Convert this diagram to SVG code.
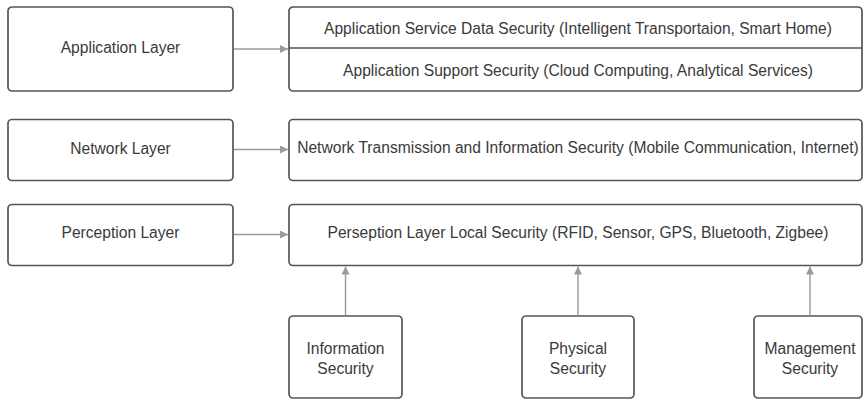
<svg xmlns="http://www.w3.org/2000/svg" width="865" height="402" viewBox="0 0 865 402">
  <style>
    .box { fill: #ffffff; stroke: #555555; stroke-width: 1.7; }
    .lbl { font-family: "Liberation Sans", Arial, sans-serif; font-size: 15.6px; fill: #3a3a3a; text-anchor: middle; dominant-baseline: central; }
    .conn { stroke: #9a9a9a; stroke-width: 1.4; fill: none; marker-end: url(#arrow); }
  </style>
  <defs>
    <marker id="arrow" viewBox="0 0 10 10" refX="10" refY="5" markerWidth="10" markerHeight="8" markerUnits="userSpaceOnUse" orient="auto">
      <path d="M0,0 L10,5 L0,10 Z" fill="#9a9a9a"/>
    </marker>
  </defs>
  <rect width="865" height="402" fill="#ffffff"/>

  <!-- layers -->
  <g id="application-layer">
    <rect class="box" x="8" y="7" width="225" height="84" rx="4"/>
    <text class="lbl" x="120.5" y="47">Application Layer</text>
  </g>
  <g id="network-layer">
    <rect class="box" x="8" y="119.5" width="225" height="61" rx="4"/>
    <text class="lbl" x="120.5" y="148">Network Layer</text>
  </g>
  <g id="perception-layer">
    <rect class="box" x="8" y="204.5" width="225" height="61" rx="4"/>
    <text class="lbl" x="120.5" y="232">Perception Layer</text>
  </g>

  <!-- security domains -->
  <g id="application-security">
    <rect class="box" x="289" y="7" width="573" height="84" rx="4"/>
    <line x1="289" y1="48" x2="862" y2="48" stroke="#555555" stroke-width="1.7"/>
    <text class="lbl" x="578" y="28">Application Service Data Security (Intelligent Transportaion, Smart Home)</text>
    <text class="lbl" x="578" y="70">Application Support Security (Cloud Computing, Analytical Services)</text>
  </g>
  <g id="network-security">
    <rect class="box" x="289" y="119.5" width="573" height="61" rx="4"/>
    <text class="lbl" x="578" y="147">Network Transmission and Information Security (Mobile Communication, Internet)</text>
  </g>
  <g id="perception-security">
    <rect class="box" x="289" y="204.5" width="573" height="61" rx="4"/>
    <text class="lbl" x="578" y="232">Perseption Layer Local Security (RFID, Sensor, GPS, Bluetooth, Zigbee)</text>
  </g>

  <!-- supporting security -->
  <g id="information-security">
    <rect class="box" x="289" y="316" width="113" height="82" rx="4"/>
    <text class="lbl" x="345.5" y="348">Information</text>
    <text class="lbl" x="345.5" y="368">Security</text>
  </g>
  <g id="physical-security">
    <rect class="box" x="522" y="316" width="112" height="82" rx="4"/>
    <text class="lbl" x="578" y="348">Physical</text>
    <text class="lbl" x="578" y="368">Security</text>
  </g>
  <g id="management-security">
    <rect class="box" x="754" y="316" width="108" height="82" rx="4"/>
    <text class="lbl" x="810" y="348">Management</text>
    <text class="lbl" x="810" y="368">Security</text>
  </g>

  <!-- connectors -->
  <g id="connectors">
    <line class="conn" x1="234" y1="49" x2="288" y2="49"/>
    <line class="conn" x1="234" y1="149.5" x2="288" y2="149.5"/>
    <line class="conn" x1="234" y1="234.5" x2="288" y2="234.5"/>
    <line class="conn" x1="345.5" y1="315" x2="345.5" y2="266.5"/>
    <line class="conn" x1="578" y1="315" x2="578" y2="266.5"/>
    <line class="conn" x1="810" y1="315" x2="810" y2="266.5"/>
  </g>
</svg>
